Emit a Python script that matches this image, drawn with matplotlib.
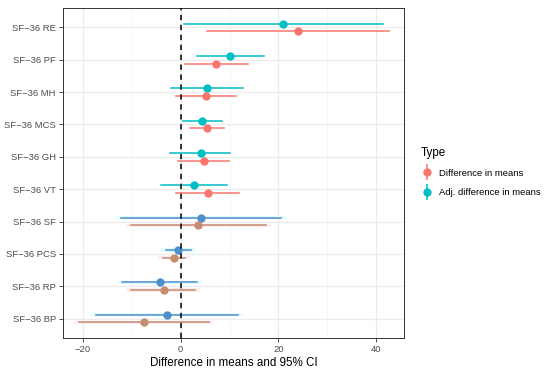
import matplotlib.pyplot as plt
from matplotlib.lines import Line2D
from matplotlib.legend_handler import HandlerTuple
import numpy as np

plt.rcParams["font.family"] = ["Liberation Sans", "DejaVu Sans"]

measures = ["SF-36 RE", "SF-36 PF", "SF-36 MH", "SF-36 MCS", "SF-36 GH",
            "SF-36 VT", "SF-36 SF", "SF-36 PCS", "SF-36 RP", "SF-36 BP"]
labels = [m.replace("-", "\u2212") for m in measures]

diff_est = [24.0, 7.3, 5.2, 5.3, 4.7, 5.6, 3.6, -1.4, -3.5, -7.6]
diff_lo = [5.3, 0.8, -1.0, 1.8, -0.5, -0.9, -10.2, -3.7, -10.1, -20.8]
diff_hi = [42.7, 13.7, 11.4, 8.9, 9.9, 12.0, 17.5, 0.9, 2.9, 5.7]

adj_est = [21.0, 10.1, 5.4, 4.3, 4.1, 2.7, 4.2, -0.5, -4.3, -2.8]
adj_lo = [0.6, 3.3, -1.9, 0.4, -2.1, -4.0, -12.2, -3.1, -12.0, -17.3]
adj_hi = [41.4, 17.1, 12.7, 8.4, 10.1, 9.5, 20.6, 2.0, 3.4, 11.8]

RED = "#F8766D"
CYAN = "#00BFC4"
# the lower rows of the source image are tinted
RED_T = "#C58D6E"
CYAN_T = "#4C8FCB"
tinted = {"SF-36 SF", "SF-36 PCS", "SF-36 RP", "SF-36 BP"}

n = len(measures)
ypos = np.arange(n, 0, -1)  # top row = n
dodge = 0.12

fig = plt.figure(figsize=(5.5, 3.72), dpi=100)
ax = fig.add_axes([63 / 550, 1 - 338 / 372, 341 / 550, 330 / 372])

ax.set_xlim(-24.1, 45.7)
ax.set_ylim(0.4, n + 0.6)

for v in [-10, 10, 30]:
    ax.axvline(v, color="#F2F2F2", lw=0.5, zorder=0)
for v in [-20, 0, 20, 40]:
    ax.axvline(v, color="#EBEBEB", lw=0.9, zorder=0)
for y in ypos:
    ax.axhline(y, color="#EBEBEB", lw=0.9, zorder=0)

for i, m in enumerate(measures):
    y = ypos[i]
    cr = RED_T if m in tinted else RED
    cc = CYAN_T if m in tinted else CYAN
    if m in tinted:
        ax.fill_between([adj_lo[i] - 1.0, adj_hi[i] + 1.0], y + dodge - 0.05, y + dodge + 0.05,
                        color="#E3FBFB", lw=0, zorder=1)
        ax.fill_between([diff_lo[i] - 1.0, diff_hi[i] + 1.0], y - dodge - 0.05, y - dodge + 0.05,
                        color="#FDEBF0", lw=0, zorder=1)
    ax.plot([adj_lo[i], adj_hi[i]], [y + dodge] * 2, color=cc, lw=1.1, zorder=3)
    ax.plot(adj_est[i], y + dodge, "o", color=cc, ms=6, mec="none", zorder=4)
    ax.plot([diff_lo[i], diff_hi[i]], [y - dodge] * 2, color=cr, lw=1.1, zorder=3)
    ax.plot(diff_est[i], y - dodge, "o", color=cr, ms=6, mec="none", zorder=4)

ax.axvline(0, color="black", lw=1.1, ls=(0, (3.5, 3)), zorder=5)

ax.set_yticks(ypos)
ax.set_yticklabels(labels)
ax.set_xticks([-20, 0, 20, 40])
ax.set_xticklabels(["\u221220", "0", "20", "40"])
ax.tick_params(axis="both", colors="#333333", labelcolor="#4D4D4D", labelsize=6.8,
               length=2.7, width=0.6, pad=2.5)
for s in ax.spines.values():
    s.set_color("#333333")
    s.set_linewidth(0.7)

ax.set_xlabel("Difference in means and 95% CI", fontsize=8.4, color="black", labelpad=2)

h_red = (Line2D([], [], color=RED, marker="|", ms=12, mew=1.1, ls="none"),
         Line2D([], [], color=RED, marker="o", ms=6, mec="none", ls="none"))
h_cyan = (Line2D([], [], color=CYAN, marker="|", ms=12, mew=1.1, ls="none"),
          Line2D([], [], color=CYAN, marker="o", ms=6, mec="none", ls="none"))
leg = fig.legend([h_red, h_cyan], ["Difference in means", "Adj. difference in means"],
                 handler_map={tuple: HandlerTuple(ndivide=1, pad=0)},
                 title="Type", loc="upper left", bbox_to_anchor=(421 / 550, 1 - 147 / 372),
                 frameon=False, fontsize=6.8, title_fontsize=8.4, handlelength=1.2,
                 handletextpad=0.7, labelspacing=1.1, borderaxespad=0, borderpad=0)
leg._legend_box.align = "left"
leg._legend_box.sep = 7

fig.savefig("out.png", dpi=100)
